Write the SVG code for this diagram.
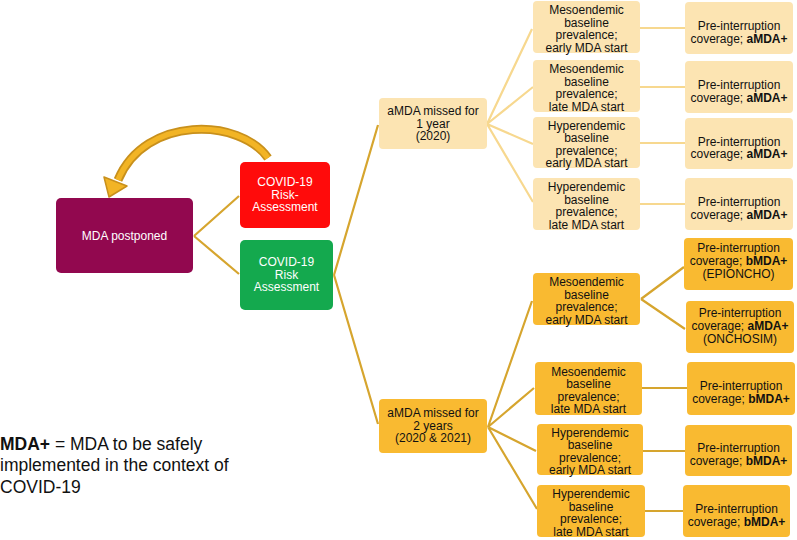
<svg xmlns="http://www.w3.org/2000/svg" width="797" height="540" viewBox="0 0 797 540">
<style>
text{font-family:"Liberation Sans",Arial,sans-serif;font-size:12px;text-anchor:middle;fill:#111}
.w{fill:#fff}
.lt{fill:#FCE4B2}
.dk{fill:#F9BA31}
.cl{stroke:#F7D88F;stroke-width:2.2;fill:none}
.cd{stroke:#D6A52E;stroke-width:2.2;fill:none}
.b{font-weight:bold}
.leg{font-size:17.5px;text-anchor:start}
</style>
<rect width="797" height="540" fill="#fff"/>
<g id="connectors">
<path class="cd" d="M194 236 L239 196 M194 236 L239 274"/>
<path class="cd" d="M334 275 L378 125 M334 275 L378 424"/>
<path class="cl" d="M487 124 L532 29 M487 124 L533 87 M487 124 L533 144 M487 124 L533 202"/>
<path class="cl" d="M640 28 L685 28 M640 87 L685 87 M640 143 L685 143 M640 204 L685 204"/>
<path class="cd" d="M488 427 L532 301 M488 427 L534 388 M488 427 L536 451 M488 427 L537 509"/>
<path class="cd" d="M641 299 L684 267 M641 299 L685 329"/>
<path class="cd" d="M642 388 L687 388 M643 451 L685 451 M645 511 L683 511"/>
</g>
<g id="arrow">
<path d="M268 158 C240 118,145 115,118 180" fill="none" stroke="#C8901C" stroke-width="9"/>
<path d="M268 158 C240 118,145 115,118 180" fill="none" stroke="#F2B425" stroke-width="5.5"/>
<polygon points="109,197 104,177 127,186" fill="#F2B425" stroke="#C8901C" stroke-width="1.5" stroke-linejoin="round"/>
</g>
<g id="mda-postponed">
<rect x="56" y="198" width="137" height="75" rx="5" fill="#92084F"/>
<text class="w" x="124.5" y="239.5">MDA postponed</text>
</g>
<g id="covid-red">
<rect x="240" y="162" width="90" height="66" rx="5" fill="#FF0B0B"/>
<text class="w" x="285" y="186">COVID-19<tspan x="285" dy="12.5">Risk-</tspan><tspan x="285" dy="12.5">Assessment</tspan></text>
</g>
<g id="covid-green">
<rect x="240" y="240" width="93" height="70" rx="5" fill="#14A94E"/>
<text class="w" x="286.5" y="266">COVID-19<tspan x="286.5" dy="12.5">Risk</tspan><tspan x="286.5" dy="12.5">Assessment</tspan></text>
</g>
<g id="amda-1yr">
<rect class="lt" x="379" y="98" width="108" height="51" rx="4"/>
<text x="433" y="115">aMDA missed for<tspan x="433" dy="12.5">1 year</tspan><tspan x="433" dy="12.5">(2020)</tspan></text>
</g>
<g id="amda-2yr">
<rect class="dk" x="379" y="399" width="108" height="54" rx="4"/>
<text x="433" y="417">aMDA missed for<tspan x="433" dy="12.5">2 years</tspan><tspan x="433" dy="12.5">(2020 &amp; 2021)</tspan></text>
</g>
<g id="t-meso-early">
<rect class="lt" x="533" y="1" width="107" height="52" rx="4"/>
<text x="586.5" y="14">Mesoendemic<tspan x="586.5" dy="12.5">baseline</tspan><tspan x="586.5" dy="12.5">prevalence;</tspan><tspan x="586.5" dy="12.5">early MDA start</tspan></text>
</g>
<g id="t-meso-late">
<rect class="lt" x="533" y="60" width="107" height="52" rx="4"/>
<text x="586.5" y="73">Mesoendemic<tspan x="586.5" dy="12.5">baseline</tspan><tspan x="586.5" dy="12.5">prevalence;</tspan><tspan x="586.5" dy="12.5">late MDA start</tspan></text>
</g>
<g id="t-hyper-early">
<rect class="lt" x="533" y="117" width="107" height="51" rx="4"/>
<text x="586.5" y="129.5">Hyperendemic<tspan x="586.5" dy="12.5">baseline</tspan><tspan x="586.5" dy="12.5">prevalence;</tspan><tspan x="586.5" dy="12.5">early MDA start</tspan></text>
</g>
<g id="t-hyper-late">
<rect class="lt" x="533" y="178" width="107" height="52" rx="4"/>
<text x="586.5" y="191">Hyperendemic<tspan x="586.5" dy="12.5">baseline</tspan><tspan x="586.5" dy="12.5">prevalence;</tspan><tspan x="586.5" dy="12.5">late MDA start</tspan></text>
</g>
<g id="t-cov-1">
<rect class="lt" x="685" y="2" width="108" height="52" rx="4"/>
<text x="739" y="30">Pre-interruption<tspan x="739" dy="12.5">coverage; </tspan><tspan class="b">aMDA+</tspan></text>
</g>
<g id="t-cov-2">
<rect class="lt" x="685" y="61" width="108" height="52" rx="4"/>
<text x="739" y="89">Pre-interruption<tspan x="739" dy="12.5">coverage; </tspan><tspan class="b">aMDA+</tspan></text>
</g>
<g id="t-cov-3">
<rect class="lt" x="685" y="118" width="108" height="51" rx="4"/>
<text x="739" y="145.5">Pre-interruption<tspan x="739" dy="12.5">coverage; </tspan><tspan class="b">aMDA+</tspan></text>
</g>
<g id="t-cov-4">
<rect class="lt" x="685" y="178" width="108" height="52" rx="4"/>
<text x="739" y="206">Pre-interruption<tspan x="739" dy="12.5">coverage; </tspan><tspan class="b">aMDA+</tspan></text>
</g>
<g id="b-meso-early">
<rect class="dk" x="533" y="273" width="107" height="52" rx="4"/>
<text x="586.5" y="286">Mesoendemic<tspan x="586.5" dy="12.5">baseline</tspan><tspan x="586.5" dy="12.5">prevalence;</tspan><tspan x="586.5" dy="12.5">early MDA start</tspan></text>
</g>
<g id="b-meso-late">
<rect class="dk" x="535" y="362" width="107" height="53" rx="4"/>
<text x="588.5" y="375.5">Mesoendemic<tspan x="588.5" dy="12.5">baseline</tspan><tspan x="588.5" dy="12.5">prevalence;</tspan><tspan x="588.5" dy="12.5">late MDA start</tspan></text>
</g>
<g id="b-hyper-early">
<rect class="dk" x="537" y="424" width="106" height="51" rx="4"/>
<text x="590" y="436.5">Hyperendemic<tspan x="590" dy="12.5">baseline</tspan><tspan x="590" dy="12.5">prevalence;</tspan><tspan x="590" dy="12.5">early MDA start</tspan></text>
</g>
<g id="b-hyper-late">
<rect class="dk" x="537" y="485" width="108" height="52" rx="4"/>
<text x="591" y="498">Hyperendemic<tspan x="591" dy="12.5">baseline</tspan><tspan x="591" dy="12.5">prevalence;</tspan><tspan x="591" dy="12.5">late MDA start</tspan></text>
</g>
<g id="b-cov-epioncho">
<rect class="dk" x="684" y="238" width="109" height="52" rx="4"/>
<text x="738.5" y="252">Pre-interruption<tspan x="738.5" dy="12.5">coverage; </tspan><tspan class="b">bMDA+</tspan><tspan x="738.5" dy="13">(EPIONCHO)</tspan></text>
</g>
<g id="b-cov-onchosim">
<rect class="dk" x="686" y="301" width="108" height="52" rx="4"/>
<text x="740" y="317">Pre-interruption<tspan x="740" dy="12.5">coverage; </tspan><tspan class="b">aMDA+</tspan><tspan x="740" dy="13">(ONCHOSIM)</tspan></text>
</g>
<g id="b-cov-2">
<rect class="dk" x="687" y="362" width="108" height="53" rx="4"/>
<text x="741" y="390">Pre-interruption<tspan x="741" dy="12.5">coverage; </tspan><tspan class="b">bMDA+</tspan></text>
</g>
<g id="b-cov-3">
<rect class="dk" x="685" y="425" width="107" height="51" rx="4"/>
<text x="738.5" y="452">Pre-interruption<tspan x="738.5" dy="12.5">coverage; </tspan><tspan class="b">bMDA+</tspan></text>
</g>
<g id="b-cov-4">
<rect class="dk" x="683" y="485" width="107" height="52" rx="4"/>
<text x="736.5" y="513">Pre-interruption<tspan x="736.5" dy="12.5">coverage; </tspan><tspan class="b">bMDA+</tspan></text>
</g>
<g id="legend">
<text class="leg" x="0" y="449.5"><tspan class="b">MDA+</tspan> = MDA to be safely<tspan x="0" dy="21.5">implemented in the context of</tspan><tspan x="0" dy="21.5">COVID-19</tspan></text>
</g>
</svg>
